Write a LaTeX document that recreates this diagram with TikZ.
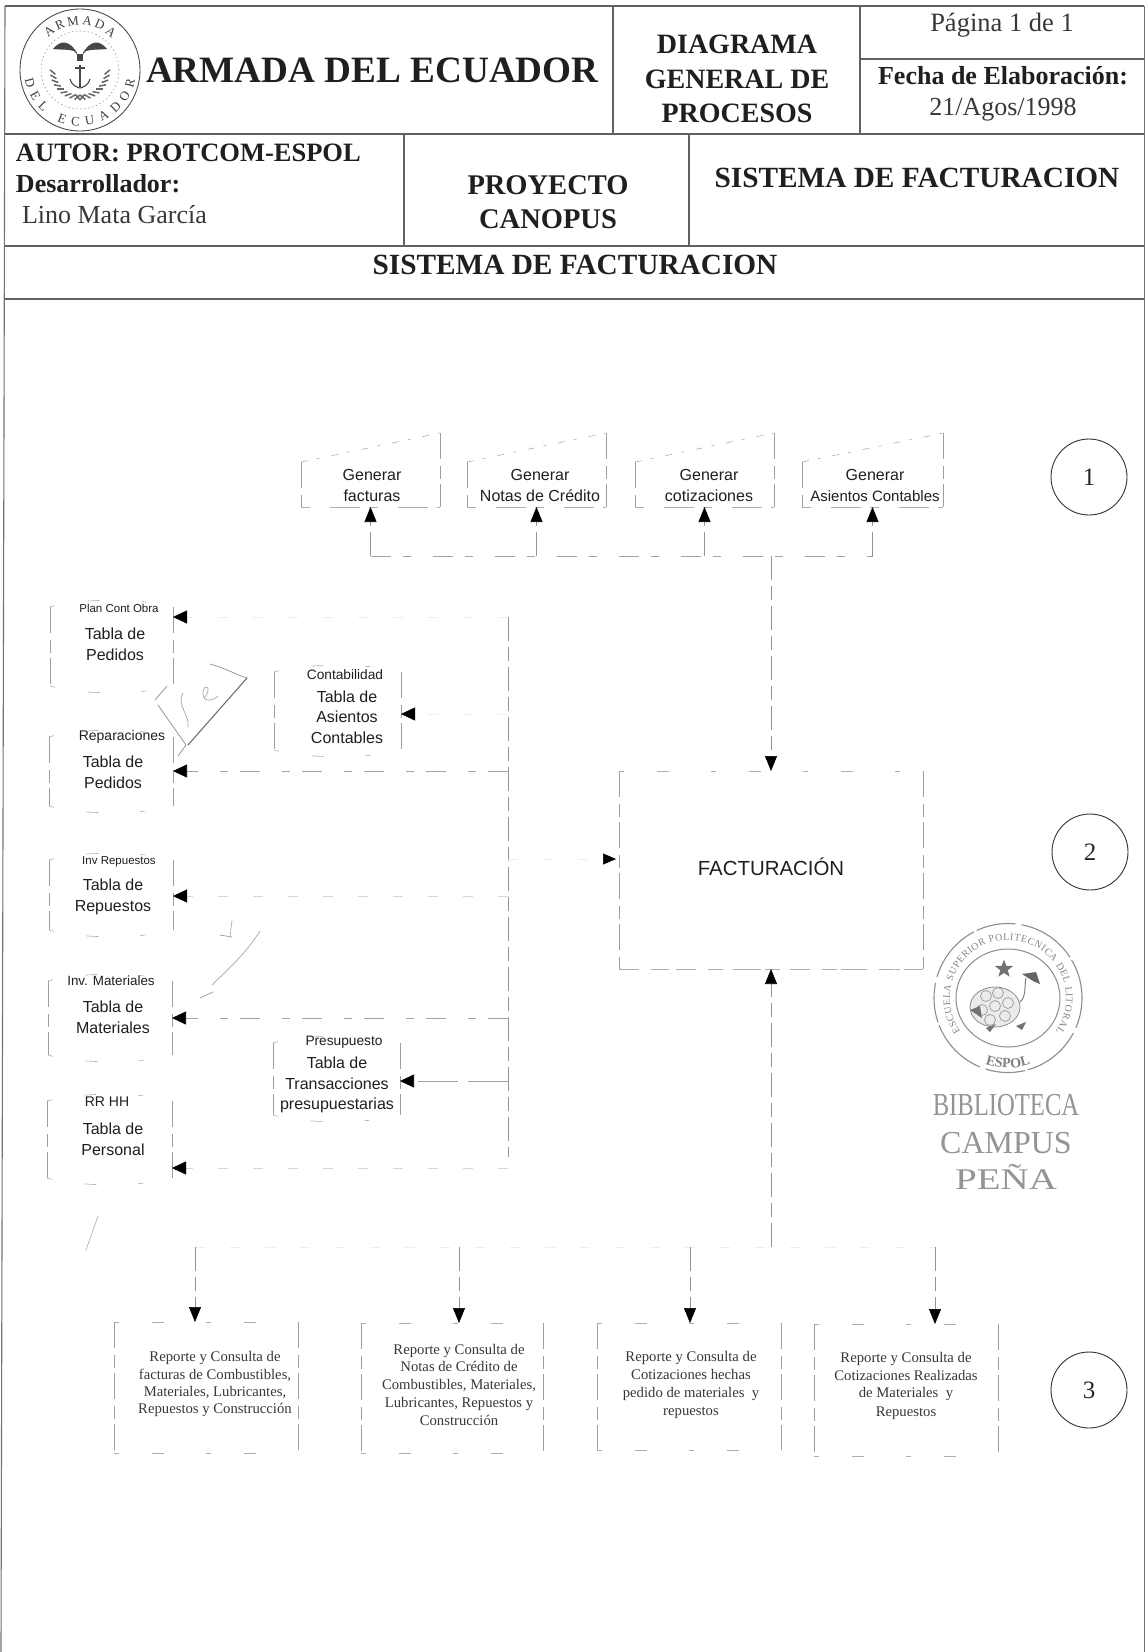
\documentclass[tikz,border=0pt]{standalone}
\usepackage{fontspec}
\setmainfont{Liberation Serif}
\setsansfont{Liberation Sans}
\usetikzlibrary{arrows.meta,decorations.text,shapes.geometric}
\newcommand{\fsz}[1]{\fontsize{#1}{#1}\selectfont}
\tikzset{
  rule/.style={draw=black!62,line width=1.1pt},
  tx/.style={inner sep=0pt,outer sep=0pt,text depth=0pt,text=black!88},
  tm/.style={tx,text=black!78,text height={.66*#1 pt},font=\rmfamily\fsz{#1}},
  tb/.style={tx,text height={.66*#1 pt},font=\rmfamily\bfseries\fsz{#1}},
  ar/.style={tx,text height={.7*#1 pt},font=\sffamily\fsz{#1}},
  ghost/.style={inner sep=0pt,outer sep=0pt},
  vf/.style={draw=black!38,line width=.55pt,dash pattern=on 26pt off 7pt on 13pt off 5pt},
  hf/.style={draw=black!32,line width=.6pt,dash pattern=on 5pt off 33pt on 12pt off 42pt},
  conn/.style={draw=black!42,line width=.55pt,dash pattern=on 24pt off 6pt on 14pt off 6pt},
  connh/.style={draw=black!36,line width=.65pt,dash pattern=on 20pt off 12pt on 8pt off 22pt},
  fade/.style={draw=black!7,line width=.5pt,dash pattern=on 10pt off 25pt},
  tipU/.style={-{Triangle[length=15pt,width=12pt,color=black,fill=black]}},
  numc/.style={circle,draw=black!80,line width=.9pt,minimum size=76pt,inner sep=0pt,font=\rmfamily\fsz{25},text=black!85},
  seal/.style={draw=black!45,line width=.8pt},
  scr/.style={draw=black!45,line width=.7pt,line cap=round},
}
% manual-input box: name, left, top-left y, right, top-right y, bottom
\newcommand{\ginput}[6]{%
  \node[ghost,minimum width={#4-#2},minimum height={#6-#5}] (#1) at ({(#2+#4)/2},{(#5+#6)/2}) {};
  \draw[hf,dash pattern=on 7pt off 9pt on 3pt off 12pt] (#2,#3) -- (#4,#5);
  \draw[vf] (#4,#5) -- (#4,#6);
  \draw[vf] (#2,#3) -- (#2,#6);
  \draw[hf,dash pattern=on 9pt off 20pt on 30pt off 9pt] (#2,#6) -- (#4,#6);
}
% data store: name, left, top, right, bottom
\newcommand{\store}[5]{%
  \node[ghost,minimum width={#4-#2},minimum height={#5-#3}] (#1) at ({(#2+#4)/2},{(#3+#5)/2}) {};
  \draw[hf] (#2,#3) .. controls ({#2+30},{#3-9}) and ({#4-30},{#3-9}) .. (#4,#3);
  \draw[vf] (#2,#3) -- (#2,#5);
  \draw[vf] (#4,#3) -- (#4,#5);
  \draw[hf] (#2,#5) .. controls ({#2+30},{#5+9}) and ({#4-30},{#5+9}) .. (#4,#5);
}
% plain box with faded edges: name, left, top, right, bottom
\newcommand{\pbox}[5]{%
  \node[ghost,minimum width={#4-#2},minimum height={#5-#3}] (#1) at ({(#2+#4)/2},{(#3+#5)/2}) {};
  \draw[hf] (#2,#3) -- (#4,#3);
  \draw[vf] (#2,#3) -- (#2,#5);
  \draw[vf] (#4,#3) -- (#4,#5);
  \draw[hf] (#2,#5) -- (#4,#5);
}
\begin{document}
\begin{tikzpicture}[x=1pt,y=-1pt]
\useasboundingbox (0,0) rectangle (1146,1652);
\fill[white] (0,0) rectangle (1146,1652);

% frame
\draw[rule,draw=black!55] (5,6) -- (1,1652);
\draw[rule,draw=black!55] (1144.5,6) -- (1144.5,1652);
\draw[rule] (5,6) -- (1144,6);
\draw[rule] (5,134) -- (1144,134);
\draw[rule] (5,246) -- (1144,246);
\draw[rule] (4.5,299) -- (1144,299);
\draw[rule] (613,6) -- (613,134);
\draw[rule] (860,6) -- (860,134);
\draw[rule] (860,59) -- (1144,59);
\draw[rule] (404,134) -- (404,246);
\draw[rule] (689,134) -- (689,246);

% header text
\node[tb=37.2,anchor=west] (hArmada) at (146,70) {ARMADA DEL ECUADOR};
\node[tb=28] (hDia) at (737,44) {DIAGRAMA};
\node[tb=28] (hGen) at (737,79) {GENERAL DE};
\node[tb=28] (hPro) at (737,113) {PROCESOS};
\node[tm=26.5] (hPag) at (1002,23) {Página 1 de 1};
\node[tb=26] (hFec) at (1003,76) {Fecha de Elaboración:};
\node[tm=26] (hDate) at (1003,107) {21/Agos/1998};
\node[tb=26.5,anchor=west] (hAut) at (16,153) {AUTOR: PROTCOM-ESPOL};
\node[tb=26,anchor=west] (hDes) at (16,184) {Desarrollador:};
\node[tm=26,anchor=west] (hLin) at (22,215) {Lino Mata García};
\node[tb=28.5] (hPry) at (548,185) {PROYECTO};
\node[tb=28.5] (hCan) at (548,219) {CANOPUS};
\node[tb=29.3] (hSis) at (917,178) {SISTEMA DE FACTURACION};
\node[tb=29.3] (hTit) at (575,265) {SISTEMA DE FACTURACION};

% naval crest
\begin{scope}[shift={(80,70)},y=1pt]
  \draw[black!70,line width=.9pt] (0,0) ellipse (60 and 61);
  \draw[black!40,line width=.6pt,dash pattern=on 1.5pt off 2.5pt] (0,0) circle (39);
  \path[decorate,decoration={text along path,text align={fit to path},
    text={|\rmfamily\fsz{13}\color{black!75}|ARMADA}}] (135:45) arc (135:45:45);
  \path[decorate,decoration={text along path,text align={fit to path},
    text={|\rmfamily\fsz{13}\color{black!75}|DEL ECUADOR}}] (190:56) arc (190:350:56);
  \fill[black!72] (-27,21) .. controls (-20,30) and (-10,31) .. (-2,15) -- (-6,19) .. controls (-12,21) and (-20,20) .. cycle;
  \fill[black!72] (27,21) .. controls (20,30) and (10,31) .. (2,15) -- (6,19) .. controls (12,21) and (20,20) .. cycle;
  \fill[black!72] (-3,16) rectangle (3,9);
  \draw[black!72,line width=1.1pt] (0,5) -- (0,-17) (-5,2) -- (5,2);
  \draw[black!72,line width=1.1pt] (-10,-9) .. controls (-8,-16) and (-3,-17) .. (0,-18) .. controls (3,-17) and (8,-16) .. (10,-9);
  \foreach \a in {190,200,...,285}{
    \draw[black!60,line width=1.5pt] (\a:25) -- ++(\a-50:7);
    \draw[black!60,line width=1.5pt] (180-\a:25) -- ++(230-\a:7);
  }
\end{scope}

% process boxes
\ginput{g1}{301}{462}{440}{433}{507}
\ginput{g2}{467}{462}{606}{433}{507}
\ginput{g3}{635}{462}{774}{433}{507}
\ginput{g4}{802}{462}{943}{433}{507}
\node[ar=16] (g1a) at (372,475) {Generar};
\node[ar=16] (g1b) at (372,496) {facturas};
\node[ar=16] (g2a) at (540,475) {Generar};
\node[ar=16] (g2b) at (540,496) {Notas de Crédito};
\node[ar=16] (g3a) at (709,475) {Generar};
\node[ar=16] (g3b) at (709,496) {cotizaciones};
\node[ar=16] (g4a) at (875,475) {Generar};
\node[ar=15] (g4b) at (875,496) {Asientos Contables};

% central process
\pbox{fact}{619}{771}{923}{969}
\draw[hf,dash pattern=on 20pt off 12pt on 15pt off 10pt] (619,969) -- (923,969);
\node[ar=20.4] (factt) at (771,868) {FACTURACIÓN};

% numbered circles
\node[numc] (n1) at (1089,477) {1};
\node[numc] (n2) at (1090,852) {2};
\node[numc] (n3) at (1089,1390) {3};

% data stores
\store{s1}{50}{607}{173}{686}
\node[ar=11.5] (s1a) at (119,608) {Plan Cont Obra};
\node[ar=16] (s1b) at (115,634) {Tabla de};
\node[ar=16] (s1c) at (115,655) {Pedidos};
\store{s2}{49}{737}{173}{806}
\node[ar=14] (s2a) at (122,736) {Reparaciones};
\node[ar=16] (s2b) at (113,762) {Tabla de};
\node[ar=16] (s2c) at (113,783) {Pedidos};
\store{s3}{49}{860}{173}{930}
\node[ar=11.5] (s3a) at (119,860) {Inv Repuestos};
\node[ar=16] (s3b) at (113,885) {Tabla de};
\node[ar=16] (s3c) at (113,906) {Repuestos};
\store{s4}{48}{981}{172}{1055}
\node[ar=13.4] (s4a) at (111,981) {Inv. Materiales};
\node[ar=16] (s4b) at (113,1007) {Tabla de};
\node[ar=16] (s4c) at (113,1028) {Materiales};
\store{s5}{47}{1101}{172}{1178}
\node[ar=14] (s5a) at (107,1102) {RR HH};
\node[ar=16] (s5b) at (113,1129) {Tabla de};
\node[ar=16] (s5c) at (113,1150) {Personal};
\store{s6}{274}{672}{401}{750}
\node[ar=13.7] (s6a) at (345,675) {Contabilidad};
\node[ar=16] (s6b) at (347,697) {Tabla de};
\node[ar=16] (s6c) at (347,717) {Asientos};
\node[ar=16] (s6d) at (347,738) {Contables};
\store{s7}{273}{1043}{400}{1115}
\node[ar=13.7] (s7a) at (344,1041) {Presupuesto};
\node[ar=16] (s7b) at (337,1063) {Tabla de};
\node[ar=16] (s7c) at (337,1084) {Transacciones};
\node[ar=16] (s7d) at (337,1104) {presupuestarias};

% reports
\pbox{r1}{114}{1322}{298}{1453}
\node[tm=14.7] (r1a) at (215,1357) {Reporte y Consulta de};
\node[tm=14.7] (r1b) at (215,1375) {facturas de Combustibles,};
\node[tm=14.7] (r1c) at (215,1392) {Materiales, Lubricantes,};
\node[tm=14.7] (r1d) at (215,1409) {Repuestos y Construcción};
\pbox{r2}{361}{1323}{543}{1453}
\node[tm=14.7] (r2a) at (459,1350) {Reporte y Consulta de};
\node[tm=14.7] (r2b) at (459,1367) {Notas de Crédito de};
\node[tm=14.7] (r2c) at (459,1385) {Combustibles, Materiales,};
\node[tm=14.7] (r2d) at (459,1403) {Lubricantes, Repuestos y};
\node[tm=14.7] (r2e) at (459,1421) {Construcción};
\pbox{r3}{597}{1323}{781}{1450}
\node[tm=14.7] (r3a) at (691,1357) {Reporte y Consulta de};
\node[tm=14.7] (r3b) at (691,1375) {Cotizaciones hechas};
\node[tm=14.7] (r3c) at (691,1393) {pedido de materiales\ \ y};
\node[tm=14.7] (r3d) at (691,1411) {repuestos};
\pbox{r4}{814}{1324}{998}{1456}
\node[tm=14.7] (r4a) at (906,1358) {Reporte y Consulta de};
\node[tm=14.7] (r4b) at (906,1376) {Cotizaciones Realizadas};
\node[tm=14.7] (r4c) at (906,1393) {de Materiales\ \ y};
\node[tm=14.7] (r4d) at (906,1412) {Repuestos};

% top bus
\coordinate (bus1) at (g1.south |- 0,556);
\coordinate (bus2) at (g2.south |- 0,556);
\coordinate (bus3) at (g3.south |- 0,556);
\coordinate (bus4) at (g4.south |- 0,556);
\coordinate (busC) at (fact.north |- 0,556);
\draw[connh] (bus1) -- (bus4);
\draw[conn,tipU] (bus1) -- (g1.south);
\draw[conn,tipU] (bus2) -- (g2.south);
\draw[conn,tipU] (bus3) -- (g3.south);
\draw[conn,tipU] (bus4) -- (g4.south);
\draw[conn,tipU] (busC) -- (fact.north);

% left trunk
\coordinate (trTop) at (508,617);
\coordinate (trBot) at (508,1157);
\coordinate (trF) at (508,859);
\coordinate (fIn) at (616,859);
\draw[conn] (trTop) -- (trBot);
\coordinate (a1) at (173,617);
\coordinate (a2) at (173,771);
\coordinate (a3) at (173,896);
\coordinate (a4) at (172,1018);
\coordinate (a5) at (172,1168);
\coordinate (a6) at (401,714);
\coordinate (a7) at (400,1081);
\coordinate (t1) at (508,617);
\coordinate (t2) at (508,771);
\coordinate (t3) at (508,896);
\coordinate (t4) at (508,1018);
\coordinate (t5) at (508,1168);
\coordinate (t6) at (508,714);
\coordinate (t7) at (508,1081);
\tikzset{tipL/.style={-{Triangle[length=14pt,width=13pt,color=black,fill=black]}}}
\draw[fade,tipL] (t1) -- (a1);
\draw[connh,tipL] (t2) -- (a2);
\draw[fade,draw=black!16,tipL] (t3) -- (a3);
\draw[connh,tipL] (t4) -- (a4);
\draw[fade,draw=black!16,tipL] (t5) -- (a5);
\draw[fade,tipL] (t6) -- (a6);
\draw[connh,dash pattern=on 40pt off 10pt,tipL] (t7) -- (a7);
\draw[fade,-{Triangle[length=13pt,width=11pt,color=black,fill=black]}] (trF) -- (fIn);

% lower bus
\coordinate (b1) at (195,1247);
\coordinate (b2) at (459,1247);
\coordinate (b3) at (690,1247);
\coordinate (b4) at (935,1247);
\coordinate (bC) at (771,1247);
\coordinate (r1in) at (195,1322);
\coordinate (r2in) at (459,1323);
\coordinate (r3in) at (690,1323);
\coordinate (r4in) at (935,1324);
\draw[fade] (b1) -- (b4);
\draw[conn,tipU] (b1) -- (r1in);
\draw[conn,tipU] (b2) -- (r2in);
\draw[conn,tipU] (b3) -- (r3in);
\draw[conn,tipU] (b4) -- (r4in);
\draw[conn,tipU] (bC) -- (fact.south);

% hand marks
\draw[scr,line width=1pt,draw=black!60] (247,678) -- (188,745);
\draw[scr] (155,700) -- (167,686);
\draw[scr] (158,705) -- (186,745) -- (178,756);
\draw[scr] (210,664) .. controls (225,668) and (237,675) .. (247,678);
\draw[scr,draw=black!35] (183,693) .. controls (176,705) and (190,715) .. (188,727);
\draw[scr,draw=black!35] (205,697) .. controls (212,688) and (205,682) .. (203,692) .. controls (202,702) and (212,702) .. (218,696);
\draw[scr,draw=black!35] (260,931) .. controls (245,955) and (225,972) .. (212,985);
\draw[scr,draw=black!40] (213,992) -- (200,998);
\draw[scr,draw=black!40] (220,935) -- (232,937);
\draw[scr,draw=black!30] (232,920) -- (230,937);
\draw[scr,draw=black!30] (98,1216) -- (86,1250);

% seal
\begin{scope}[shift={(1008,998)},y=1pt]
  \draw[seal,line width=1.1pt,dash pattern=on 40pt off 3pt on 60pt off 6pt] (0,0) ellipse (74 and 74.5);
  \draw[seal,line width=1pt] (0,0) ellipse (52 and 49);
  \path[decorate,decoration={text along path,text align={fit to path},
    text={|\rmfamily\fsz{10}\color{black!48}|ESCUELA SUPERIOR POLITECNICA DEL LITORAL}}] (215:58) arc (215:-35:58);
  \path[decorate,decoration={text along path,text align=center,
    text={|\rmfamily\bfseries\fsz{14}\color{black!50}|ESPOL}}] (248:70) arc (248:292:70);
  \node[star,star points=5,star point ratio=2.4,fill=black!55,minimum size=19pt,inner sep=0pt] (sealstar) at (-4,29) {};
  \draw[black!45,fill=black!8,line width=.8pt] (-13,-9) ellipse (25 and 20);
  \foreach \p in {(-22,2),(-10,5),(-26,-12),(-13,-8),(0,-5),(-18,-22),(-3,-18)}{
    \draw[black!40,line width=.7pt] \p circle (5.5);
  }
  \draw[black!50,line width=1pt] (12,-4) .. controls (19,2) and (16,14) .. (18,20);
  \fill[black!60] (14,24) -- (28,26) -- (32,14) -- (25,17) -- cycle;
  \fill[black!55] (-38,-12) -- (-28,-8) -- (-26,-20) -- cycle;
  \fill[black!55] (-22,-30) -- (-12,-26) -- (-18,-34) -- cycle;
  \fill[black!55] (8,-28) -- (18,-24) -- (14,-32) -- cycle;
\end{scope}
\node[tm=32,text=black!42,xscale=.77,transform shape] (bib1) at (1006,1105) {BIBLIOTECA};
\node[tm=32,text=black!42] (bib2) at (1006,1143) {CAMPUS};
\node[tm=30,text=black!42,xscale=1.3,transform shape] (bib3) at (1006,1180) {PEÑA};
\end{tikzpicture}
\end{document}
